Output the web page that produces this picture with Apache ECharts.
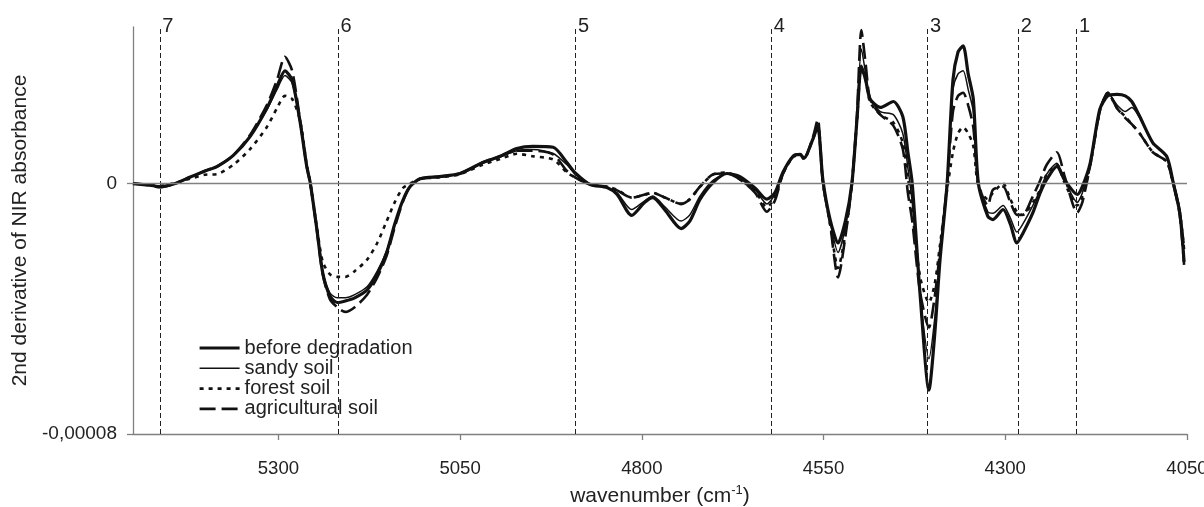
<!DOCTYPE html>
<html>
<head>
<meta charset="utf-8">
<script src="https://cdn.jsdelivr.net/npm/echarts@6/dist/echarts.min.js"></script>
<style>
html,body{margin:0;padding:0;background:#fff;}
#chart{width:1204px;height:507px;}
</style>
</head>
<body>
<div id="chart"></div>
<script>
// wavenumber (cm-1)
const wavenumbers = [5500,5477,5463,5442,5422,5401,5384,5362,5339,5316,5302,5291,5281,5270,5261,5256,5247,5239,5229,5219,5208,5195,5178,5164,5151,5140,5129,5119,5105,5078,5050,5019,4995,4972,4950,4922,4903,4892,4871,4848,4834,4814,4796,4785,4768,4746,4734,4720,4702,4683,4665,4644,4628,4617,4606,4592,4582,4577,4565,4558,4551,4541,4530,4520,4511,4504,4498,4492,4486,4472,4454,4441,4434,4428,4417,4405,4397,4390,4380,4372,4365,4358,4351,4344,4337,4324,4317,4303,4293,4284,4276,4262,4252,4243,4229,4218,4201,4194,4183,4170,4159,4146,4135,4126,4115,4097,4078,4069,4060,4054];
// 2nd derivative values, in units of 1e-5
const beforeDegradation = [0,-0.05,-0.1,0,0.2,0.4,0.55,0.9,1.5,2.4,3.1,3.6,3.3,1.95,0.55,0,-1.47,-2.85,-3.6,-3.8,-3.75,-3.65,-3.4,-2.9,-2.2,-1.3,-0.55,-0.1,0.15,0.22,0.32,0.67,0.87,1.12,1.19,1.16,0.67,0.35,-0.03,-0.13,-0.35,-1.02,-0.6,-0.45,-0.85,-1.44,-1.2,-0.51,0.03,0.32,0.22,-0.15,-0.5,-0.3,0.35,0.87,0.93,0.8,1.4,1.82,0.13,-1.15,-1.9,-1.2,0,2.05,3.75,3.3,2.7,2.43,2.62,2.14,1.0,0,-3.6,-6.6,-4.8,-2.5,0,3.3,4.2,4.4,3.5,2.7,0,-1.05,-1.15,-0.83,-1.3,-1.9,-1.6,-0.93,-0.3,0.13,0.55,0.1,-0.35,-0.1,0.67,2.37,2.8,2.85,2.8,2.62,2.14,1.3,0.87,0.03,-0.93,-2.5];
const sandySoil = [0,-0.05,-0.1,0,0.2,0.4,0.55,0.9,1.5,2.35,3.0,3.45,3.2,1.95,0.55,0,-1.45,-2.8,-3.5,-3.65,-3.65,-3.55,-3.3,-2.8,-2.15,-1.3,-0.55,-0.1,0.15,0.22,0.32,0.65,0.85,1.05,1.09,0.96,0.6,0.3,-0.03,-0.13,-0.3,-0.83,-0.55,-0.4,-0.75,-1.2,-1.0,-0.4,0.1,0.32,0.15,-0.2,-0.65,-0.35,0.35,0.87,0.93,0.8,1.4,1.85,0.1,-1.2,-2.2,-1.4,0,2.1,4.3,3.5,2.7,2.3,2.2,1.6,0.5,-0.6,-3.6,-5.6,-4.3,-2.4,0,3.0,3.5,3.6,3.0,2.3,0,-0.9,-0.95,-0.7,-1.1,-1.55,-1.3,-0.7,-0.2,0.3,0.65,0.1,-0.6,-0.3,0.67,2.37,2.9,2.5,2.3,2.43,2.1,1.3,0.87,0.1,-0.8,-1.9];
const forestSoil = [0,-0.04,-0.08,0.02,0.15,0.28,0.3,0.6,1.1,1.8,2.4,2.8,2.7,2.0,0.6,0,-1.4,-2.5,-2.9,-2.98,-2.98,-2.8,-2.43,-1.9,-1.2,-0.6,-0.15,0,0.15,0.2,0.3,0.6,0.78,0.95,0.87,0.77,0.35,0.2,-0.03,-0.1,-0.2,-0.45,-0.35,-0.3,-0.45,-0.65,-0.5,-0.1,0.29,0.35,0.13,-0.25,-0.75,-0.45,0.3,0.85,0.9,0.78,1.4,1.8,0.05,-1.3,-2.7,-1.6,0,2.0,3.7,3.3,2.6,2.2,1.95,1.3,0.2,-0.9,-3.0,-3.8,-3.2,-2.0,-0.2,1.0,1.6,1.8,1.6,1.2,-0.1,-0.5,-0.3,0,-0.5,-0.9,-1.0,-0.6,-0.2,0.3,0.6,0,-0.7,-0.4,0.6,2.3,2.9,2.4,2.14,1.9,1.6,1.0,0.7,0.0,-0.9,-2.1];
const agriculturalSoil = [0,-0.06,-0.12,0,0.2,0.4,0.55,0.9,1.55,2.5,3.3,4.05,3.6,2.0,0.55,0,-1.5,-2.9,-3.7,-3.95,-4.1,-3.95,-3.55,-3.0,-2.3,-1.4,-0.6,-0.1,0.15,0.22,0.32,0.67,0.87,1.05,1.05,0.93,0.4,0.2,-0.03,-0.1,-0.22,-0.45,-0.35,-0.3,-0.45,-0.65,-0.5,-0.1,0.29,0.32,0.13,-0.3,-0.9,-0.55,0.3,0.87,0.93,0.8,1.45,2.05,0.05,-1.3,-3.0,-1.7,0,2.2,4.9,3.8,2.7,2.2,1.85,1.1,-0.3,-1.2,-3.5,-4.6,-3.6,-2.2,0,2.3,2.8,2.9,2.5,1.8,0,-0.7,-0.2,-0.1,-0.6,-1.0,-1.0,-0.4,0.1,0.6,1.0,0.2,-0.93,-0.6,0.6,2.3,2.9,2.4,2.1,1.9,1.6,1.0,0.7,0.0,-1.0,-2.6];

const xTickValues = [4050,4300,4550,4800,5050,5300];
const yTickValues = [-8,0];
const bandPositions = [5463,5218,4891,4622,4407,4282,4202];
const bandLabels = ['7','6','5','4','3','2','1'];
const seriesNames = ['before degradation','sandy soil','forest soil','agricultural soil'];

const FONT = 'Liberation Sans, Arial, sans-serif';
const AXIS_GREY = '#808080';
const TEXT = '#222';

function pairs(ys){ return wavenumbers.map((w,i)=>[w, ys[i]]); }

const styles = [
  {width:3.2, type:'solid'},
  {width:1.5, type:'solid'},
  {width:2.6, type:[4,5]},
  {width:2.6, type:[16,6]}
];
const datasets = [beforeDegradation, sandySoil, forestSoil, agriculturalSoil];

const series = datasets.map((d,i)=>({
  name: seriesNames[i],
  type: 'line',
  data: pairs(d),
  symbol: 'none',
  smooth: 0.25,
  z: 3,
  lineStyle: {color:'#111', width: styles[i].width, type: styles[i].type},
  itemStyle: {color:'#111'},
  silent: true
}));

const markData = bandPositions.map((p,i)=>({
  name: bandLabels[i], xAxis: p,
  lineStyle: {color:'#222', width:1, type:[5,3]},
  label: {show:true, position:'end', formatter: bandLabels[i], color: TEXT, fontSize: 20, fontFamily: FONT, offset:[8, 14]}
}));
markData.push({
  yAxis: 0,
  lineStyle: {color: AXIS_GREY, width: 1.3, type: 'solid'},
  label: {show:false}
});

series.push({
  name: 'markers',
  type: 'line',
  data: [],
  symbol: 'none',
  z: 1,
  silent: true,
  markLine: {
    silent: true,
    symbol: ['none','none'],
    animation: false,
    data: markData
  }
});

const legendData = seriesNames.map((n,i)=>({
  name: n,
  lineStyle: {color:'#111', width: styles[i].width, type: styles[i].type},
  itemStyle: {opacity: 0}
}));

const chart = echarts.init(document.getElementById('chart'), null, {renderer:'canvas'});
chart.setOption({
  animation: false,
  backgroundColor: '#fff',
  textStyle: {fontFamily: FONT},
  grid: {left: 133, right: 17, top: 27, bottom: 73, containLabel: false, outerBoundsMode: 'none'},
  legend: {
    data: legendData,
    orient: 'vertical',
    left: 198, top: 338,
    padding: 0,
    itemWidth: 40, itemHeight: 10, itemGap: 0.3,
    itemStyle: {opacity: 0},
    textStyle: {fontSize: 20, color: TEXT, fontFamily: FONT, lineHeight: 19},
    selectedMode: false
  },
  xAxis: {
    type: 'value',
    min: 4050, max: 5500,
    inverse: true,
    name: 'wavenumber (cm{sup|-1})',
    nameLocation: 'middle',
    nameGap: 50,
    nameTextStyle: {
      fontSize: 21, color: TEXT, fontFamily: FONT, lineHeight: 24,
      rich: {sup: {fontSize: 13, verticalAlign: 'top', lineHeight: 24, color: TEXT, fontFamily: FONT}}
    },
    axisLine: {show: true, onZero: false, lineStyle: {color: AXIS_GREY, width: 1.3}},
    axisTick: {show: true, inside: false, length: 6, lineStyle: {color: AXIS_GREY, width: 1.3}, customValues: xTickValues},
    axisLabel: {show: true, fontSize: 18.6, color: TEXT, fontFamily: FONT, margin: 25, customValues: xTickValues,
      formatter: v => String(v)},
    splitLine: {show: false}
  },
  yAxis: {
    type: 'value',
    min: -8, max: 5,
    name: '2nd derivative of NIR absorbance',
    nameLocation: 'middle',
    nameGap: 93,
    nameTextStyle: {fontSize: 21, color: TEXT, fontFamily: FONT},
    axisLine: {show: true, onZero: false, lineStyle: {color: AXIS_GREY, width: 1.3}},
    axisTick: {show: true, inside: false, length: 6, lineStyle: {color: AXIS_GREY, width: 1.3}, customValues: yTickValues},
    axisLabel: {show: true, fontSize: 19, color: TEXT, fontFamily: FONT, margin: 16, customValues: yTickValues,
      formatter: v => v === 0 ? '0' : (v / 1e5).toFixed(5).replace('.', ',')},
    splitLine: {show: false}
  },
  series: series
});
</script>
</body>
</html>
